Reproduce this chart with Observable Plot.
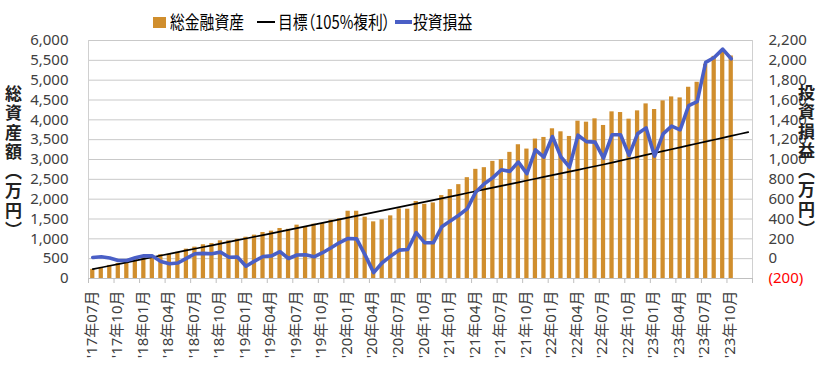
<!DOCTYPE html>
<html><head><meta charset="utf-8">
<script src="https://cdn.jsdelivr.net/npm/d3@7"></script>
<script src="https://cdn.jsdelivr.net/npm/@observablehq/plot@0.6"></script>
<style>
body{margin:0;background:#fff;}
#wrap{position:relative;width:820px;height:369px;overflow:hidden;font-family:"Noto Sans","Noto Sans CJK JP",sans-serif;}
#legend{position:relative;height:30px;}
.lt{position:absolute;top:12px;font-size:18.5px;line-height:19px;color:#000;font-family:"Noto Sans CJK JP","Noto Sans",sans-serif;transform:scaleX(0.8);transform-origin:left center;white-space:nowrap;}
.p{font-feature-settings:"palt";}
.sw{position:absolute;}
.vt{position:absolute;writing-mode:vertical-rl;font-family:"Noto Sans CJK JP",sans-serif;font-weight:bold;font-size:17px;letter-spacing:2.5px;color:#222;line-height:17px;}
</style>
</head><body>
<div id="wrap">
  <div id="legend">
    <div class="sw" style="left:153px;top:17px;width:13px;height:11px;background:#D08E2D"></div>
    <div class="lt" style="left:170px">総金融資産</div>
    <div class="sw" style="left:257px;top:21px;width:18px;height:2.2px;background:#000"></div>
    <div class="lt" style="left:278px">目標<span class="p">（</span>105%複利<span class="p">）</span></div>
    <div class="sw" style="left:395px;top:20px;width:17px;height:3.5px;background:#4A5FC6"></div>
    <div class="lt" style="left:413px">投資損益</div>
  </div>
  <div id="chart"></div>
  <div class="vt" style="left:5px;top:85px">総資産額（万円）</div>
  <div class="vt" style="left:798px;top:84px">投資損益（万円）</div>
</div>
<script>
const months = [
"'17年07月","'17年08月","'17年09月","'17年10月","'17年11月","'17年12月",
"'18年01月","'18年02月","'18年03月","'18年04月","'18年05月","'18年06月","'18年07月","'18年08月","'18年09月","'18年10月","'18年11月","'18年12月",
"'19年01月","'19年02月","'19年03月","'19年04月","'19年05月","'19年06月","'19年07月","'19年08月","'19年09月","'19年10月","'19年11月","'19年12月",
"'20年01月","'20年02月","'20年03月","'20年04月","'20年05月","'20年06月","'20年07月","'20年08月","'20年09月","'20年10月","'20年11月","'20年12月",
"'21年01月","'21年02月","'21年03月","'21年04月","'21年05月","'21年06月","'21年07月","'21年08月","'21年09月","'21年10月","'21年11月","'21年12月",
"'22年01月","'22年02月","'22年03月","'22年04月","'22年05月","'22年06月","'22年07月","'22年08月","'22年09月","'22年10月","'22年11月","'22年12月",
"'23年01月","'23年02月","'23年03月","'23年04月","'23年05月","'23年06月","'23年07月","'23年08月","'23年09月","'23年10月","'23年11月","'23年12月"];

const tickLabels = ["'17年07月","'17年10月","'18年01月","'18年04月","'18年07月","'18年10月",
"'19年01月","'19年04月","'19年07月","'19年10月","'20年01月","'20年04月","'20年07月","'20年10月",
"'21年01月","'21年04月","'21年07月","'21年10月","'22年01月","'22年04月","'22年07月","'22年10月",
"'23年01月","'23年04月","'23年07月","'23年10月"];

// 総金融資産 (万円), '17年07月 .. '23年10月
const totalAssets = [230,280,330,380,430,490,540,570,600,610,
660,740,790,850,880,950,950,990,1040,1093,
1160,1194,1261,1240,1345,1303,1370,1386,1470,1504,
1696,1696,1546,1428,1479,1579,1755,1747,1940,1871,
1905,2090,2241,2366,2542,2752,2794,2953,2995,3180,
3372,3263,3514,3556,3774,3698,3581,3966,3941,4025,
3858,4201,4184,4017,4226,4402,4260,4478,4578,4553,
4821,4947,5400,5600,5740,5610];

// 目標（105%複利）(万円), '17年07月 .. '23年12月
const target = [235,278,321,364,407,450,493,536,579,622,
665,708,751,794,837,880,923,966,1009,1052,
1095,1139,1183,1227,1271,1315,1359,1403,1447,1491,
1535,1579,1623,1667,1711,1755,1799,1843,1887,1931,
1975,2020,2065,2110,2155,2200,2245,2290,2335,2380,
2425,2470,2515,2560,2605,2650,2695,2740,2785,2830,
2875,2923,2971,3019,3067,3115,3163,3211,3259,3307,
3355,3403,3451,3499,3547,3595,3643,3691];

// 投資損益 (万円), '17年07月 .. '23年10月
const profit = [12,19,6,-19,-18,10,30,28,-28,-51,
-44,3,50,53,50,66,14,16,-76,-25,
22,28,70,2,37,40,19,60,110,163,
204,200,36,-141,-41,26,86,93,262,160,
160,321,381,438,505,673,756,817,897,880,
974,857,1098,1025,1232,1025,924,1245,1180,1175,
1014,1249,1249,1041,1259,1319,1034,1259,1336,1299,
1544,1584,1979,2029,2113,2016];

const leftTicks = [0,500,1000,1500,2000,2500,3000,3500,4000,4500,5000,5500,6000];
const rightTicks = [0,200,400,600,800,1000,1200,1400,1600,1800,2000,2200];
const rightNeg = [-200];

const rightToLeft = p => (p + 200) * 2.5; // right axis (-200..2200) onto left axis (0..6000)

const assetsData = totalAssets.map((v, i) => ({month: months[i], v}));
const targetData = target.map((v, i) => ({month: months[i], v}));
const profitData = profit.map((v, i) => ({month: months[i], v}));

const W = 820, H = 339, ML = 88, MR = 68;
const step = (W - ML - MR) / months.length;
const boundaryTicks = months.filter((d, i) => i % 3 === 0);
const grey = "#404040";

const chart = Plot.plot({
  width: W, height: H,
  marginLeft: ML, marginRight: MR, marginTop: 10, marginBottom: 91,
  style: {fontFamily: '"Noto Sans","Noto Sans CJK JP",sans-serif', fontSize: "15px", background: "#fff", overflow: "visible"},
  x: {type: "band", domain: months, paddingInner: 0.5, paddingOuter: 0.25, align: 0.5, label: null},
  y: {domain: [0, 6000], label: null},
  marks: [
    Plot.gridY(leftTicks, {stroke: "#c9c9c9", strokeOpacity: 1, strokeWidth: 1}),
    Plot.frame({anchor: "left", stroke: "#d0d0d0"}),
    Plot.frame({anchor: "right", stroke: "#d0d0d0"}),
    Plot.barY(assetsData, {x: "month", y: "v", fill: "#D08E2D"}),
    Plot.ruleY([0], {stroke: "#bfbfbf"}),
    Plot.line(targetData, {x: "month", y: "v", stroke: "#000", strokeWidth: 1.7}),
    Plot.line(profitData, {x: "month", y: d => rightToLeft(d.v), stroke: "#4A5FC6", strokeWidth: 3.6, strokeLinejoin: "round", strokeLinecap: "round"}),
    Plot.axisY(leftTicks, {anchor: "left", tickSize: 0, tickPadding: 20, tickFormat: d3.format(","), fill: grey, label: null}),
    Plot.axisY(rightTicks.map(rightToLeft), {anchor: "right", tickSize: 0, tickPadding: 16, tickFormat: v => d3.format(",")(Math.round(v / 2.5 - 200)), fill: grey, textAnchor: "start", label: null}),
    Plot.axisY(rightNeg.map(rightToLeft), {anchor: "right", tickSize: 0, tickPadding: 16, tickFormat: v => "(" + Math.abs(Math.round(v / 2.5 - 200)) + ")", fill: "#ff0000", textAnchor: "start", label: null}),
    Plot.axisX(boundaryTicks, {anchor: "bottom", tickSize: 5, tickFormat: () => "", dx: -step / 2, stroke: "#bfbfbf", label: null}),
    Plot.axisX([months[months.length - 1]], {anchor: "bottom", tickSize: 5, tickFormat: () => "", dx: step / 2, stroke: "#bfbfbf", label: null}),
    Plot.axisX(tickLabels, {anchor: "bottom", tickSize: 0, tickPadding: 12, tickRotate: -90, fill: grey, fontSize: 15, dx: -1, label: null})
  ]
});
document.getElementById("chart").appendChild(chart);
</script>
</body></html>
